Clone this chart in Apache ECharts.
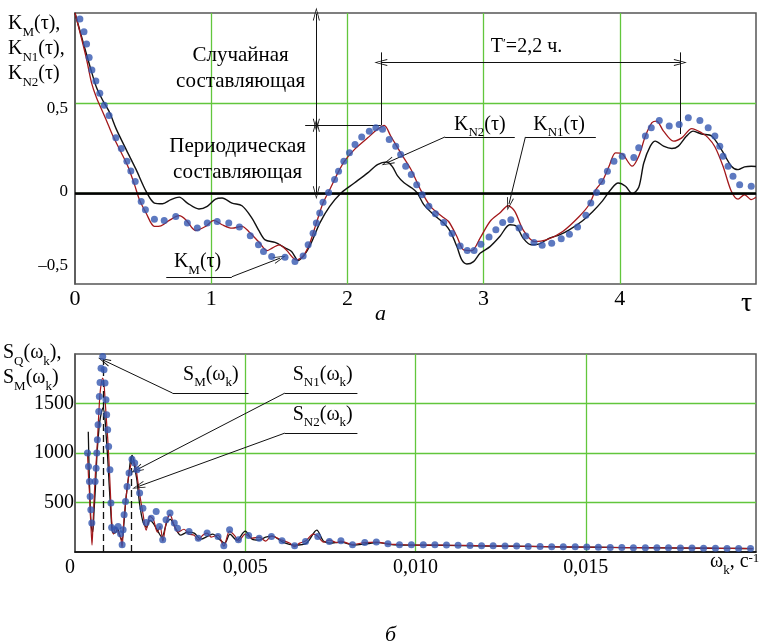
<!DOCTYPE html>
<html>
<head>
<meta charset="utf-8">
<script src="https://cdn.jsdelivr.net/npm/echarts@6/dist/echarts.min.js"></script>
<style>
html, body { margin: 0; padding: 0; background: #fff; }
#chart { width: 759px; height: 644px; }
</style>
</head>
<body>
<div id="chart"></div>
<script>
// ---- Correlation functions (τ, hours) ----
const kM = [[0.036,0.967],[0.066,0.896],[0.085,0.828],[0.104,0.754],[0.124,0.685],[0.153,0.624],[0.182,0.556],[0.215,0.49],[0.25,0.433],[0.3,0.309],[0.34,0.25],[0.381,0.18],[0.41,0.125],[0.442,0.068],[0.486,-0.043],[0.517,-0.089],[0.583,-0.141],[0.655,-0.148],[0.74,-0.126],[0.825,-0.163],[0.898,-0.19],[0.971,-0.163],[1.044,-0.154],[1.129,-0.163],[1.207,-0.185],[1.287,-0.233],[1.347,-0.283],[1.384,-0.32],[1.444,-0.348],[1.542,-0.352],[1.615,-0.376],[1.675,-0.345],[1.712,-0.283],[1.748,-0.219],[1.772,-0.163],[1.797,-0.107],[1.821,-0.048],[1.862,0.007],[1.906,0.078],[1.935,0.124],[1.974,0.18],[2.015,0.226],[2.056,0.272],[2.105,0.313],[2.161,0.346],[2.209,0.365],[2.258,0.356],[2.307,0.3],[2.355,0.263],[2.391,0.217],[2.428,0.152],[2.469,0.106],[2.509,0.05],[2.549,-0.006],[2.598,-0.07],[2.646,-0.111],[2.707,-0.159],[2.768,-0.22],[2.828,-0.29],[2.88,-0.315],[2.93,-0.315],[2.98,-0.28],[3.04,-0.24],[3.09,-0.2],[3.14,-0.16],[3.2,-0.145],[3.26,-0.19],[3.31,-0.235],[3.37,-0.27],[3.43,-0.285],[3.5,-0.275],[3.57,-0.25],[3.63,-0.225],[3.69,-0.185],[3.751,-0.12],[3.787,-0.052],[3.829,0.007],[3.867,0.068],[3.909,0.124],[3.957,0.18],[4.018,0.207],[4.103,0.2],[4.139,0.254],[4.188,0.319],[4.231,0.365],[4.29,0.405],[4.363,0.374],[4.436,0.383],[4.503,0.42],[4.588,0.405],[4.649,0.365],[4.698,0.319],[4.734,0.263],[4.758,0.207],[4.795,0.152],[4.831,0.096],[4.88,0.05],[4.965,0.041]];

const kN1 = [[0,1.0],[0.049,0.856],[0.085,0.744],[0.121,0.615],[0.158,0.531],[0.206,0.448],[0.243,0.383],[0.279,0.319],[0.328,0.244],[0.388,0.152],[0.437,0.05],[0.473,-0.033],[0.522,-0.107],[0.583,-0.181],[0.631,-0.178],[0.692,-0.148],[0.765,-0.122],[0.813,-0.144],[0.886,-0.204],[0.959,-0.181],[1.02,-0.148],[1.08,-0.172],[1.153,-0.191],[1.226,-0.181],[1.275,-0.209],[1.347,-0.265],[1.41,-0.315],[1.45,-0.3],[1.5,-0.283],[1.55,-0.31],[1.626,-0.367],[1.675,-0.345],[1.724,-0.274],[1.772,-0.163],[1.821,-0.052],[1.87,0.022],[1.93,0.115],[1.979,0.18],[2.051,0.244],[2.149,0.309],[2.221,0.356],[2.27,0.378],[2.318,0.319],[2.391,0.226],[2.464,0.138],[2.537,0.022],[2.61,-0.07],[2.695,-0.126],[2.743,-0.154],[2.804,-0.237],[2.853,-0.311],[2.913,-0.315],[2.974,-0.246],[3.047,-0.154],[3.119,-0.107],[3.18,-0.067],[3.229,-0.098],[3.29,-0.2],[3.374,-0.265],[3.46,-0.256],[3.581,-0.209],[3.702,-0.126],[3.775,-0.06],[3.824,0.022],[3.873,0.07],[3.921,0.152],[3.969,0.226],[4.018,0.22],[4.091,0.152],[4.139,0.207],[4.188,0.319],[4.236,0.393],[4.27,0.402],[4.321,0.346],[4.394,0.291],[4.455,0.309],[4.528,0.36],[4.6,0.337],[4.649,0.309],[4.698,0.26],[4.758,0.152],[4.819,0.013],[4.868,-0.03],[4.916,-0.006],[4.965,-0.033],[5.0,-0.02]];

const kN2 = [[0,1.0],[0.06,0.837],[0.109,0.707],[0.158,0.587],[0.206,0.513],[0.255,0.448],[0.304,0.356],[0.376,0.244],[0.449,0.133],[0.522,0.013],[0.583,-0.052],[0.643,-0.056],[0.704,-0.033],[0.765,-0.019],[0.825,-0.052],[0.91,-0.085],[0.971,-0.07],[1.032,-0.03],[1.08,-0.024],[1.153,-0.052],[1.226,-0.067],[1.299,-0.135],[1.347,-0.2],[1.396,-0.256],[1.469,-0.27],[1.542,-0.3],[1.59,-0.32],[1.639,-0.37],[1.688,-0.335],[1.736,-0.27],[1.797,-0.163],[1.87,-0.07],[1.954,0.004],[2.051,0.059],[2.149,0.115],[2.221,0.161],[2.29,0.175],[2.33,0.15],[2.367,0.1],[2.416,0.06],[2.476,0.03],[2.513,0.004],[2.561,-0.061],[2.634,-0.117],[2.707,-0.163],[2.755,-0.209],[2.804,-0.293],[2.84,-0.367],[2.877,-0.389],[2.926,-0.376],[2.974,-0.33],[3.047,-0.293],[3.119,-0.237],[3.192,-0.172],[3.241,-0.181],[3.29,-0.246],[3.35,-0.283],[3.41,-0.278],[3.484,-0.246],[3.557,-0.228],[3.629,-0.2],[3.727,-0.15],[3.8,-0.1],[3.873,-0.04],[3.933,0.022],[3.988,0.059],[4.042,0.041],[4.091,0.0],[4.139,0.035],[4.176,0.17],[4.224,0.263],[4.261,0.291],[4.321,0.263],[4.382,0.25],[4.43,0.263],[4.49,0.319],[4.539,0.346],[4.6,0.33],[4.674,0.319],[4.746,0.244],[4.819,0.152],[4.868,0.133],[4.916,0.148],[4.965,0.152],[5.0,0.15]];

// ---- Spectral densities (ω_k, 1/s) ----
const sM = [[0.000367,999],[0.000396,864],[0.000425,712],[0.000445,561],[0.000465,426],[0.000494,292],[0.00059,712],[0.00062,847],[0.00064,999],[0.000657,1133],[0.000677,1285],[0.000698,1419],[0.000715,1570],[0.000735,1712],[0.000765,1857],[0.000814,1975],[0.000852,1840],[0.000881,1706],[0.00091,1537],[0.00093,1386],[0.000959,1234],[0.000988,1066],[0.001026,830],[0.001055,494],[0.001076,247],[0.001172,224],[0.001267,258],[0.001337,184],[0.001384,73],[0.001413,224],[0.001442,376],[0.001483,510],[0.001529,662],[0.001587,797],[0.001674,938],[0.001753,900],[0.00182,830],[0.001898,595],[0.001994,443],[0.002093,298],[0.002238,342],[0.002384,409],[0.00248,258],[0.002576,123],[0.002674,325],[0.00279,393],[0.002916,292],[0.00301,241],[0.00335,207],[0.00362,140],[0.00388,191],[0.0042,157],[0.00437,63],[0.00454,224],[0.0048,123],[0.0051,167],[0.00541,140],[0.00577,157],[0.00608,113],[0.00645,63],[0.00677,106],[0.00713,157],[0.00747,106],[0.00781,113],[0.00815,73],[0.00851,96],[0.00885,100],[0.00919,83],[0.00953,73],[0.00988,73],[0.01023,73],[0.01057,73],[0.01091,70],[0.01125,68],[0.0116,66],[0.01194,64],[0.01228,62],[0.01263,60],[0.01297,60],[0.01331,56],[0.01366,56],[0.014,54],[0.01434,52],[0.01469,52],[0.01503,50],[0.01537,48],[0.01572,46],[0.01606,46],[0.0164,44],[0.01675,44],[0.01709,42],[0.01743,42],[0.01778,40],[0.01812,40],[0.01846,38],[0.01881,38],[0.01915,36],[0.01949,36],[0.01984,36]];

const sN1 = [[0.000367,1000],[0.000396,760],[0.000425,600],[0.000445,420],[0.00047,250],[0.0005,70],[0.00053,300],[0.00057,600],[0.0006,800],[0.00064,1000],[0.000677,1250],[0.000715,1500],[0.00075,1650],[0.00081,1756],[0.00085,1700],[0.00088,1560],[0.00091,1400],[0.00096,1150],[0.001,900],[0.00104,600],[0.00108,300],[0.00113,180],[0.0012,250],[0.00127,200],[0.00134,150],[0.001384,50],[0.00142,250],[0.00148,480],[0.00155,700],[0.00162,850],[0.0017,915],[0.00178,860],[0.00185,700],[0.00192,540],[0.002,380],[0.00209,220],[0.0022,360],[0.0023,330],[0.00242,200],[0.0025,260],[0.00258,110],[0.00268,300],[0.00279,380],[0.0029,280],[0.00303,200],[0.0032,230],[0.00335,180],[0.0035,170],[0.00362,120],[0.00375,170],[0.00388,190],[0.004,150],[0.0042,170],[0.00437,60],[0.00454,210],[0.0047,160],[0.0048,110],[0.005,180],[0.0052,140],[0.00541,150],[0.0056,110],[0.00577,160],[0.00608,120],[0.0063,90],[0.00645,55],[0.0066,90],[0.00677,110],[0.007,180],[0.00713,160],[0.0073,100],[0.00747,120],[0.0077,95],[0.00781,110],[0.00815,75],[0.0085,95],[0.00887,100],[0.0092,80],[0.00955,75],[0.0099,70],[0.0105,70],[0.011,68],[0.0118,64],[0.0126,60],[0.0134,56],[0.0142,52],[0.015,50],[0.0158,46],[0.0166,44],[0.0174,42],[0.0182,40],[0.019,37],[0.0199,35]];

const sN2 = [[0.00039,1215],[0.00042,750],[0.00045,450],[0.00048,250],[0.00052,200],[0.00056,420],[0.0006,650],[0.00064,950],[0.00068,1150],[0.00072,1300],[0.00077,1400],[0.00082,1456],[0.00087,1380],[0.00091,1200],[0.00096,950],[0.001,700],[0.00105,420],[0.0011,200],[0.00117,190],[0.00125,230],[0.00132,160],[0.00138,120],[0.00144,300],[0.0015,550],[0.00158,780],[0.00164,950],[0.00168,975],[0.00175,860],[0.00182,720],[0.0019,480],[0.002,300],[0.0021,250],[0.0022,320],[0.0023,290],[0.00245,200],[0.00255,150],[0.0027,300],[0.0028,330],[0.00295,240],[0.0031,170],[0.0033,200],[0.0035,190],[0.0037,130],[0.0039,160],[0.00405,180],[0.0042,140],[0.0044,90],[0.00455,180],[0.00475,120],[0.005,210],[0.0052,130],[0.0054,120],[0.0056,150],[0.0058,160],[0.0061,100],[0.00645,70],[0.0068,90],[0.0071,220],[0.0073,110],[0.0075,90],[0.0078,100],[0.0082,70],[0.0085,80],[0.0089,95],[0.0093,75],[0.0097,70],[0.0105,68],[0.0113,64],[0.0121,60],[0.0129,58],[0.0137,54],[0.0145,50],[0.0153,48],[0.0161,45],[0.0169,43],[0.0177,40],[0.0185,38],[0.0193,36],[0.0199,35]];

// ---- Axis ticks and marked values ----
const tauTicks = [0, 1, 2, 3, 4];
const kTicks = [-0.5, 0, 0.5];
const omegaTicks = [0, 0.005, 0.010, 0.015];
const sTicks = [500, 1000, 1500];
const peakOmegas = [0.00082, 0.00166];
const peakHeights = [1950, 965];
const periodHours = 2.2;
const periodStart = 2.245;

const FONT = 'Liberation Serif';
const GREEN = '#62c63c';
const BLUE = '#3558b0';
const RED = '#a3181b';
const FRAME = '#555';
const ARROW = 'path://M5,0 L10,16 L8.7,16 L5,3.2 L1.3,16 L0,16 Z';

const rich = {
  b: { fontSize: 20, fontFamily: FONT, color: '#000', padding: [0, 0, 5, 0] },
  s: { fontSize: 13, fontFamily: FONT, color: '#000', verticalAlign: 'bottom' },
  p: { fontSize: 13, fontFamily: FONT, color: '#000', verticalAlign: 'top' },
  t: { fontSize: 21, fontFamily: FONT, color: '#000', lineHeight: 26 }
};

const near = (a, b) => Math.abs(a - b) < 1e-9;
const comma = (s) => String(s).replace('.', ',');

function seg(p1, p2, a1, a2) {
  return [
    { coord: p1, symbol: a1 ? ARROW : 'none', symbolSize: [7, 13] },
    { coord: p2, symbol: a2 ? ARROW : 'none', symbolSize: [7, 13] }
  ];
}
function textAt(coord, text, extra) {
  return Object.assign({ coord: coord, value: 0, label: { formatter: text } }, extra || {});
}

const markerLabel = { show: true, position: 'inside', rich: rich, fontFamily: FONT, fontSize: 20, color: '#000', textBorderWidth: 0 };
const gridLine = { show: true, showMinLine: false, showMaxLine: false, lineStyle: { color: GREEN, width: 1.3 } };

const chart = echarts.init(document.getElementById('chart'));

const option = {
  animation: false,
  backgroundColor: '#fff',
  grid: [
    { left: 75, top: 13, width: 686, height: 271, show: true, borderColor: FRAME, borderWidth: 1.5 },
    { left: 75, top: 354, width: 688, height: 198, show: true, borderColor: FRAME, borderWidth: 1.5 }
  ],
  xAxis: [
    {
      gridIndex: 0, type: 'value', min: 0, max: 5, interval: 1,
      axisLine: { show: true, lineStyle: { color: FRAME, width: 1.5 } },
      axisTick: { show: false },
      splitLine: gridLine,
      axisLabel: {
        margin: 4, fontSize: 22, fontFamily: FONT, color: '#000',
        formatter: (v) => tauTicks.some((t) => near(t, v)) ? String(v) : ''
      }
    },
    {
      gridIndex: 1, type: 'value', min: 0, max: 0.02, interval: 0.005,
      axisLine: { show: true, lineStyle: { color: '#000', width: 1.5 } },
      axisTick: { show: false },
      splitLine: gridLine,
      axisLabel: {
        margin: 6, fontSize: 20, fontFamily: FONT, color: '#000',
        formatter: (v) => {
          if (!omegaTicks.some((t) => near(t, v))) return '';
          if (near(v, 0)) return '{z|0}';
          return comma(v.toFixed(3));
        },
        rich: { z: { fontSize: 20, fontFamily: FONT, color: '#000', padding: [0, 10, 0, 0] } }
      }
    }
  ],
  yAxis: [
    {
      gridIndex: 0, type: 'value', min: -0.5, max: 1, interval: 0.5,
      axisLine: { show: true, lineStyle: { color: FRAME, width: 1.5 } },
      axisTick: { show: false },
      splitLine: gridLine,
      axisLabel: {
        margin: 7, fontSize: 17, fontFamily: FONT, color: '#000',
        formatter: (v) => {
          if (!kTicks.some((t) => near(t, v))) return '';
          if (near(v, 0.5)) return '{d|0,5}';
          if (near(v, 0)) return '{z|0}';
          return '{u|–' + comma(Math.abs(v)) + '}';
        },
        rich: {
          d: { fontSize: 17, fontFamily: FONT, color: '#000', padding: [10, 0, 0, 0] },
          z: { fontSize: 17, fontFamily: FONT, color: '#000', padding: [0, 0, 4, 0] },
          u: { fontSize: 17, fontFamily: FONT, color: '#000', padding: [0, 0, 36, 0] }
        }
      }
    },
    {
      gridIndex: 1, type: 'value', min: 0, max: 2000, interval: 500,
      axisLine: { show: true, lineStyle: { color: FRAME, width: 1.5 } },
      axisTick: { show: false },
      splitLine: gridLine,
      axisLabel: {
        margin: 1, fontSize: 20, fontFamily: FONT, color: '#000',
        formatter: (v) => sTicks.some((t) => near(t, v)) ? String(v) : ''
      }
    }
  ],
  series: [
    // K_N2(τ) — black line; carries the zero line and the annotations of the upper plot
    {
      name: 'KN2', type: 'line', xAxisIndex: 0, yAxisIndex: 0, data: kN2,
      showSymbol: false, smooth: 0.3, clip: false, z: 3,
      lineStyle: { color: '#111', width: 1.4 },
      markLine: {
        silent: true, symbol: 'none', label: { show: false },
        lineStyle: { color: '#111', width: 1, type: 'solid' },
        data: [
          [{ coord: [0, 0], symbol: 'none' }, { coord: [5, 0], symbol: 'none', lineStyle: { width: 2.6, color: '#000' } }],
          seg([1.772, 0.995], [1.772, 0.378], true, true),
          seg([1.772, 0.378], [1.772, 0.005], true, true),
          seg([1.69, 0.378], [periodStart, 0.378], false, false),
          seg([periodStart, 0.782], [periodStart, 0.378], false, false),
          seg([periodStart + periodHours, 0.782], [periodStart + periodHours, 0.33], false, false),
          seg([periodStart, 0.726], [periodStart + periodHours, 0.726], true, true),
          seg([0.67, -0.46], [1.151, -0.46], false, false),
          seg([1.151, -0.46], [1.505, -0.357], false, true),
          seg([2.717, 0.314], [3.229, 0.314], false, false),
          seg([2.717, 0.314], [2.294, 0.172], false, true),
          seg([3.307, 0.314], [3.824, 0.314], false, false),
          seg([3.307, 0.314], [3.186, -0.058], false, true)
        ]
      },
      markPoint: {
        silent: true, symbol: 'circle', symbolSize: 1,
        itemStyle: { color: 'rgba(0,0,0,0)' },
        label: markerLabel,
        data: [
          textAt([1.216, 0.692], '{t|Случайная}\n{t|составляющая}'),
          textAt([1.194, 0.19], '{t|Периодическая}\n{t|составляющая}'),
          textAt([(periodStart * 2 + periodHours) / 2 - 0.03, 0.8], '{b|T}{p|ʹ}{b|=' + comma(periodHours) + ' ч.}'),
          textAt([0.9, -0.392], '{b|K}{s|M}{b|(τ)}'),
          textAt([2.972, 0.37], '{b|K}{s|N2}{b|(τ)}'),
          textAt([3.554, 0.37], '{b|K}{s|N1}{b|(τ)}')
        ]
      }
    },
    // K_N1(τ) — dark red line
    {
      name: 'KN1', type: 'line', xAxisIndex: 0, yAxisIndex: 0, data: kN1,
      showSymbol: false, smooth: 0.3, z: 4,
      lineStyle: { color: RED, width: 1.3 }
    },
    // K_M(τ) — blue dots
    {
      name: 'KM', type: 'scatter', xAxisIndex: 0, yAxisIndex: 0, data: kM,
      symbolSize: 7, z: 5,
      itemStyle: { color: BLUE }
    },
    // S_N2(ω_k) — black line; carries the annotations of the lower plot
    {
      name: 'SN2', type: 'line', xAxisIndex: 1, yAxisIndex: 1, data: sN2,
      showSymbol: false, smooth: 0.3, clip: false, z: 3,
      lineStyle: { color: '#111', width: 1.3 },
      markLine: {
        silent: true, symbol: 'none', label: { show: false },
        lineStyle: { color: '#111', width: 1, type: 'solid' },
        data: [
          [{ coord: [peakOmegas[0], 0], symbol: 'none', lineStyle: { type: [7, 4], width: 1.3 } }, { coord: [peakOmegas[0], peakHeights[0]], symbol: 'none' }],
          [{ coord: [peakOmegas[1], 0], symbol: 'none', lineStyle: { type: [7, 4], width: 1.3 } }, { coord: [peakOmegas[1], peakHeights[1]], symbol: 'none' }],
          seg([0.002866, 1605], [0.005096, 1605], false, false),
          seg([0.002866, 1605], [0.00085, 1935], false, true),
          seg([0.006163, 1605], [0.008294, 1605], false, false),
          seg([0.006163, 1605], [0.00181, 830], false, true),
          seg([0.006163, 1201], [0.008294, 1201], false, false),
          seg([0.006163, 1201], [0.00186, 662], false, true)
        ]
      },
      markPoint: {
        silent: true, symbol: 'circle', symbolSize: 1,
        itemStyle: { color: 'rgba(0,0,0,0)' },
        label: markerLabel,
        data: [
          textAt([0.00399, 1770], '{b|S}{s|M}{b|(ω}{s|k}{b|)}'),
          textAt([0.007276, 1770], '{b|S}{s|N1}{b|(ω}{s|k}{b|)}'),
          textAt([0.007276, 1366], '{b|S}{s|N2}{b|(ω}{s|k}{b|)}'),
          textAt([peakOmegas[0], -465], comma(peakOmegas[0]), { label: { formatter: comma(peakOmegas[0]), rotate: 90, fontSize: 20, fontFamily: FONT, color: '#000' } }),
          textAt([peakOmegas[1], -465], comma(peakOmegas[1]), { label: { formatter: comma(peakOmegas[1]), rotate: 90, fontSize: 20, fontFamily: FONT, color: '#000' } })
        ]
      }
    },
    // S_N1(ω_k) — dark red line
    {
      name: 'SN1', type: 'line', xAxisIndex: 1, yAxisIndex: 1, data: sN1,
      showSymbol: false, smooth: 0.3, z: 4,
      lineStyle: { color: RED, width: 1.2 }
    },
    // S_M(ω_k) — blue dots
    {
      name: 'SM', type: 'scatter', xAxisIndex: 1, yAxisIndex: 1, data: sM,
      symbolSize: 7, z: 5,
      itemStyle: { color: BLUE }
    }
  ],
  graphic: [
    { type: 'text', x: 8, y: 14, silent: true,
      style: { text: '{b|K}{s|M}{b|(τ),}\n{b|K}{s|N1}{b|(τ),}\n{b|K}{s|N2}{b|(τ)}', rich: rich, fill: '#000', fontFamily: FONT, fontSize: 20 } },
    { type: 'text', x: 3, y: 343, silent: true,
      style: { text: '{b|S}{s|Q}{b|(ω}{s|k}{b|),}\n{b|S}{s|M}{b|(ω}{s|k}{b|)}', rich: rich, fill: '#000', fontFamily: FONT, fontSize: 20 } },
    { type: 'text', x: 741, y: 290, silent: true,
      style: { text: 'τ', fontFamily: FONT, fontSize: 28, fill: '#000' } },
    { type: 'text', x: 710, y: 552, silent: true,
      style: { text: '{b|ω}{s|k}{b|, с}{p|-1}', rich: rich, fill: '#000', fontFamily: FONT, fontSize: 20 } },
    { type: 'text', x: 375, y: 303, silent: true,
      style: { text: 'а', fontFamily: FONT, fontSize: 22, fontStyle: 'italic', fill: '#000' } },
    { type: 'text', x: 385, y: 624, silent: true,
      style: { text: 'б', fontFamily: FONT, fontSize: 22, fontStyle: 'italic', fill: '#000' } }
  ]
};

chart.setOption(option);
</script>
</body>
</html>
